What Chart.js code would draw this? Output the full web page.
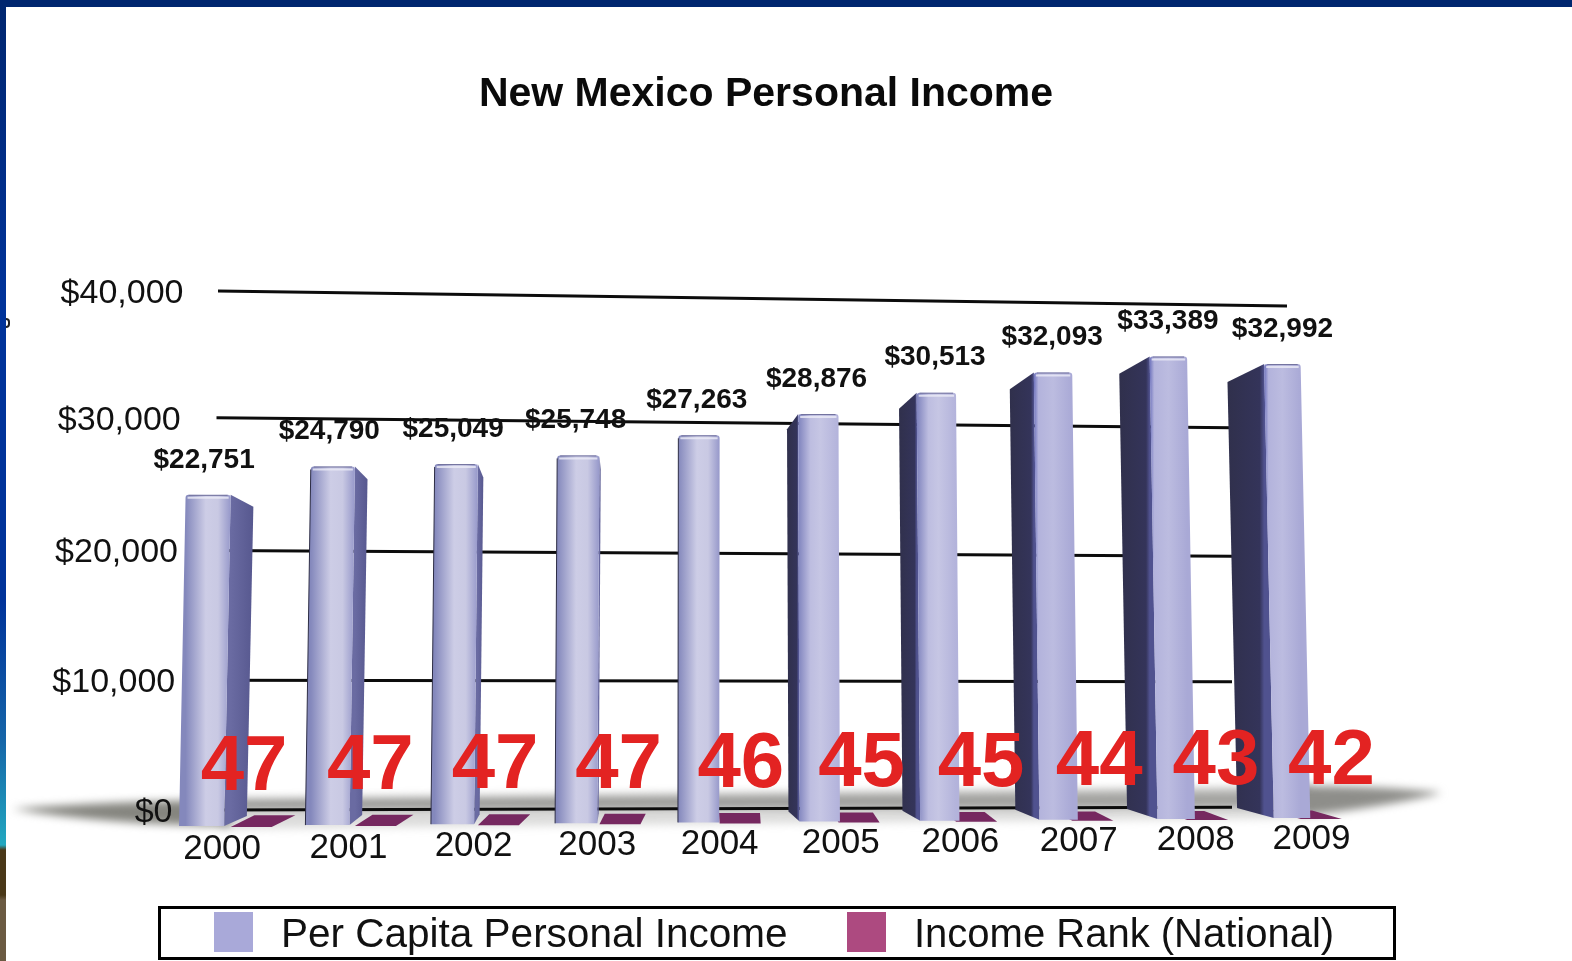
<!DOCTYPE html>
<html lang="en">
<head>
  <meta charset="UTF-8">
  <title>New Mexico Personal Income</title>
  <script src="https://cdn.jsdelivr.net/npm/chart.js"></script>
  <style>
    html, body { margin: 0; background: #fff; overflow: hidden; }
    body { width: 1572px; height: 961px; position: relative; font-family: "Liberation Sans", sans-serif; color: #111; }
    #topStrip { position: absolute; left: 0; top: 0; width: 1572px; height: 7px; background: #00266f; }
    #leftStrip { position: absolute; left: 0; top: 0; width: 6px; height: 961px;
      background: linear-gradient(#00266f 0, #00339a 300px, #00339a 600px, #1565a8 740px, #22a8c0 845px, #4a3818 850px, #4a3818 895px, #6b5a42 900px, #6b5a42 961px); }
    #speck { position: absolute; left: 6px; top: 318px; width: 2px; height: 6px; border: 2px solid #222; border-left: none; border-radius: 0 5px 5px 0; }
    h1 { position: absolute; left: 0; top: 68px; width: 1532px; margin: 0; text-align: center; font-size: 41px; line-height: 48px; font-weight: bold; color: #0a0a0a; }
    canvas { position: absolute; left: 0; top: 0; }
    #legend { position: absolute; left: 158px; top: 906px; width: 1238px; height: 54px; box-sizing: border-box; border: 3px solid #000; font-size: 40.5px; }
    #legend span { position: absolute; white-space: nowrap; }
    #legend .swatch { width: 39px; height: 40px; top: 3px; }
    #legend .text { top: 0; line-height: 48px; }
  </style>
</head>
<body>
  <canvas id="chart" width="1572" height="961"></canvas>
  <div id="topStrip"></div>
  <div id="leftStrip"></div>
  <div id="speck"></div>
  <h1>New Mexico Personal Income</h1>
  <div id="legend"></div>

  <script>
    const years = ['2000', '2001', '2002', '2003', '2004', '2005', '2006', '2007', '2008', '2009'];
    const incomeValues = [22751, 24790, 25049, 25748, 27263, 28876, 30513, 32093, 33389, 32992];
    const rankValues = [47, 47, 47, 47, 46, 45, 45, 44, 43, 42];
    const seriesNames = ['Per Capita Personal Income', 'Income Rank (National)'];
    const seriesColors = ['#a9a9d9', '#ad4a80'];

    const BAND = 119.2;
    const FIRST_BAR = 208;
    const VANISH_X = 726;

    // the picture is a 3D render, so flat chart pixels get bent a little
    function warpX(x) {
      const n = (x - FIRST_BAR) / BAND;
      return x + 6.2 * n - 0.67 * n * n;
    }
    function wallY(flatY, x, flatBase) {
      const u = Math.min(1, Math.max(0, (x - 218) / 1066));
      const left = 810 - (flatBase - flatY) * 519 / 568;
      const right = 807 - (flatBase - flatY) * 501 / 568;
      return left + (right - left) * u;
    }

    function fillShape(ctx, fill, draw) {
      ctx.fillStyle = fill;
      ctx.beginPath();
      draw();
      ctx.fill();
    }

    function drawShadow(ctx) {
      ctx.save();
      ctx.filter = 'blur(4px)';
      // strip under the back line
      fillShape(ctx, '#dcdcdb', () => {
        ctx.moveTo(220, 810);
        ctx.lineTo(1300, 806);
        ctx.lineTo(1300, 818);
        ctx.lineTo(220, 829);
      });
      // band above the back line
      const band = ctx.createLinearGradient(700, 786, 700, 809);
      band.addColorStop(0, '#c4c4c2');
      band.addColorStop(1, '#8a8a87');
      fillShape(ctx, band, () => {
        ctx.moveTo(220, 799);
        ctx.lineTo(1310, 787);
        ctx.lineTo(1310, 807);
        ctx.lineTo(220, 810);
      });
      // tails past the first and last bars
      fillShape(ctx, '#85857f', () => {
        ctx.moveTo(12, 809);
        ctx.quadraticCurveTo(110, 801, 230, 800);
        ctx.lineTo(230, 826);
        ctx.quadraticCurveTo(110, 825, 12, 809);
      });
      fillShape(ctx, '#8e8e8a', () => {
        ctx.moveTo(1300, 786);
        ctx.quadraticCurveTo(1390, 786, 1442, 793);
        ctx.quadraticCurveTo(1380, 808, 1300, 816);
      });
      ctx.restore();
    }

    function drawWall(chart) {
      const ctx = chart.ctx;
      const y = chart.scales.y;
      const flatBase = y.getPixelForValue(0);
      y.ticks.forEach(tick => {
        const flatY = y.getPixelForValue(tick.value);
        const share = tick.value / 40000;
        const x0 = 212 + 6 * share;
        const x1 = tick.value === 40000 ? 1287 : 1232;
        const nudge = tick.value === 30000 ? -3 : 0;
        ctx.strokeStyle = '#0c0c0c';
        ctx.lineWidth = 3;
        ctx.beginPath();
        ctx.moveTo(x0, wallY(flatY, x0, flatBase) + nudge);
        ctx.lineTo(x1, wallY(flatY, x1, flatBase) + nudge);
        ctx.stroke();
        ctx.fillStyle = '#111';
        ctx.font = '34px "Liberation Sans"';
        ctx.textAlign = 'right';
        ctx.textBaseline = 'middle';
        ctx.fillText(tick.label, 172.5 + 11 * share, wallY(flatY, x0, flatBase) + 2.5 + nudge);
      });
    }

    function drawRankFloor(chart) {
      const ctx = chart.ctx;
      chart.getDatasetMeta(1).data.forEach((bar, i) => {
        const t = i / 9;
        const c = warpX(bar.x);
        const half = bar.width / 2;
        const yB = 827 - 8 * t;
        const yT = yB - 11 + 3 * t - (bar.base - bar.y);
        const skew = (VANISH_X - c) * 0.05;
        fillShape(ctx, '#762860', () => {
          ctx.moveTo(c - half, yB);
          ctx.lineTo(c + half, yB);
          ctx.lineTo(c + half + skew, yT);
          ctx.lineTo(c - half + skew, yT);
        });
      });
    }

    function frontStops(i) {
      if (i < 5) return [[0, '#8488bc'], [0.45, '#cdcde6'], [0.72, '#c9c9e3'], [1, '#9698ca']];
      if (i < 7) return [[0, '#7f83bd'], [0.3, '#bdbde0'], [0.55, '#c6c6e4'], [1, '#b3b3db']];
      return [[0, '#6f73bd'], [0.12, '#b3b3dc'], [0.5, '#bcbce0'], [1, '#a9a9d6']];
    }

    function drawIncomeBars(chart) {
      const ctx = chart.ctx;
      chart.getDatasetMeta(0).data.forEach((bar, i) => {
        const t = i / 9;
        const c = warpX(bar.x);
        const w = bar.width * (1.1 - 0.21 * t);
        const yB = 826 - 8 * t;
        const h = (bar.base - bar.y) * (1.025 - 0.056 * t);
        const yT = yB - h;
        const lean = (c - VANISH_X) * 3.8e-5 * h;
        const d = c - 697;
        const side = d < 0 ? 9.5e-5 * d * d : (d > 5 ? -(0.055 * d + 4.5) : 0);
        const edge = side > 0 ? c + w / 2 : c - w / 2;
        const drop = 12 + 6 * t;

        if (Math.abs(side) > 0.5) {
          const g = ctx.createLinearGradient(edge, 0, edge + side, 0);
          if (side > 0) {
            g.addColorStop(0, '#6a6ba2');
            g.addColorStop(1, '#57588f');
          } else {
            g.addColorStop(0, '#50528f');
            g.addColorStop(0.12, '#34345a');
            g.addColorStop(1, '#30304c');
          }
          fillShape(ctx, g, () => {
            ctx.moveTo(edge, yT);
            ctx.lineTo(edge + side, yT + drop);
            ctx.lineTo(edge + side + lean, yB - 10);
            ctx.lineTo(edge + lean, yB);
          });
        }

        const g = ctx.createLinearGradient(c - w / 2, 0, c + w / 2, 0);
        frontStops(i).forEach(s => g.addColorStop(s[0], s[1]));
        fillShape(ctx, g, () => {
          ctx.moveTo(c - w / 2, yT + 3);
          ctx.quadraticCurveTo(c - w / 2, yT, c - w / 2 + 3, yT);
          ctx.lineTo(c + w / 2 - 3, yT);
          ctx.quadraticCurveTo(c + w / 2, yT, c + w / 2, yT + 3);
          ctx.lineTo(c + w / 2 + lean, yB);
          ctx.lineTo(c - w / 2 + lean, yB);
        });

        // soft rim along the top and the dark left edge
        ctx.lineWidth = 2;
        ctx.strokeStyle = 'rgba(235,235,246,0.8)';
        ctx.beginPath();
        ctx.moveTo(c - w / 2 + 2, yT + 3);
        ctx.lineTo(c + w / 2 - 2, yT + 3);
        ctx.stroke();
        ctx.lineWidth = 1;
        ctx.strokeStyle = '#72729e';
        ctx.beginPath();
        ctx.moveTo(c - w / 2 + 3, yT + 0.5);
        ctx.lineTo(c + w / 2 - 3, yT + 0.5);
        ctx.stroke();
        if (i > 0 && i < 5) {
          ctx.strokeStyle = '#2c2c44';
          ctx.beginPath();
          ctx.moveTo(c - w / 2, yT + 3);
          ctx.lineTo(c - w / 2 + lean, yB);
          ctx.stroke();
        }

        ctx.fillStyle = '#111';
        ctx.font = 'bold 28px "Liberation Sans"';
        ctx.textAlign = 'center';
        ctx.textBaseline = 'middle';
        ctx.fillText('$' + incomeValues[i].toLocaleString('en-US'), c - 4 * (1 - t), yT - 35);
      });
    }

    function drawLabels(chart) {
      const ctx = chart.ctx;
      const x = chart.scales.x;
      const incomeBars = chart.getDatasetMeta(0).data;
      x.ticks.forEach((tick, i) => {
        const t = i / 9;
        const c = warpX(incomeBars[i].x);
        ctx.fillStyle = '#111';
        ctx.font = '35px "Liberation Sans"';
        ctx.textAlign = 'center';
        ctx.textBaseline = 'middle';
        ctx.fillText(x.getLabelForValue(tick.value), c + 14 + 15 * t, 849 - 10 * t);
        ctx.fillStyle = '#e32322';
        ctx.font = 'bold 78px "Liberation Sans"';
        ctx.fillText(String(rankValues[i]), c + 36 + 13 * t, 768 - 6 * t);
      });
    }

    const render3d = {
      id: 'render3d',
      beforeDatasetDraw() { return false; },
      beforeDatasetsDraw(chart) {
        drawShadow(chart.ctx);
        drawWall(chart);
      },
      afterDatasetsDraw(chart) {
        drawRankFloor(chart);
        drawIncomeBars(chart);
        drawLabels(chart);
      }
    };

    new Chart(document.getElementById('chart').getContext('2d'), {
      type: 'bar',
      data: {
        labels: years,
        datasets: [
          { label: seriesNames[0], data: incomeValues, backgroundColor: seriesColors[0], yAxisID: 'y' },
          { label: seriesNames[1], data: rankValues, backgroundColor: seriesColors[1], yAxisID: 'y' }
        ]
      },
      options: {
        responsive: false,
        animation: false,
        layout: { padding: { left: 169, right: 211, top: 253, bottom: 140 } },
        datasets: { bar: { barPercentage: 1, categoryPercentage: 82 / BAND } },
        plugins: { legend: { display: false }, title: { display: false }, tooltip: { enabled: false } },
        scales: {
          x: { display: false },
          y: {
            display: false,
            min: 0,
            max: 40000,
            ticks: {
              stepSize: 10000,
              callback: v => '$' + v.toLocaleString('en-US')
            }
          }
        }
      },
      plugins: [render3d]
    });

    const legendEl = document.getElementById('legend');
    const legendSpots = [{ swatch: 53, text: 120, size: 40.5 }, { swatch: 686, text: 753, size: 40 }];
    seriesNames.forEach((name, i) => {
      const swatch = document.createElement('span');
      swatch.className = 'swatch';
      swatch.style.left = legendSpots[i].swatch + 'px';
      swatch.style.background = seriesColors[i];
      const text = document.createElement('span');
      text.className = 'text';
      text.style.left = legendSpots[i].text + 'px';
      text.style.fontSize = legendSpots[i].size + 'px';
      text.textContent = name;
      legendEl.appendChild(swatch);
      legendEl.appendChild(text);
    });
  </script>
</body>
</html>
